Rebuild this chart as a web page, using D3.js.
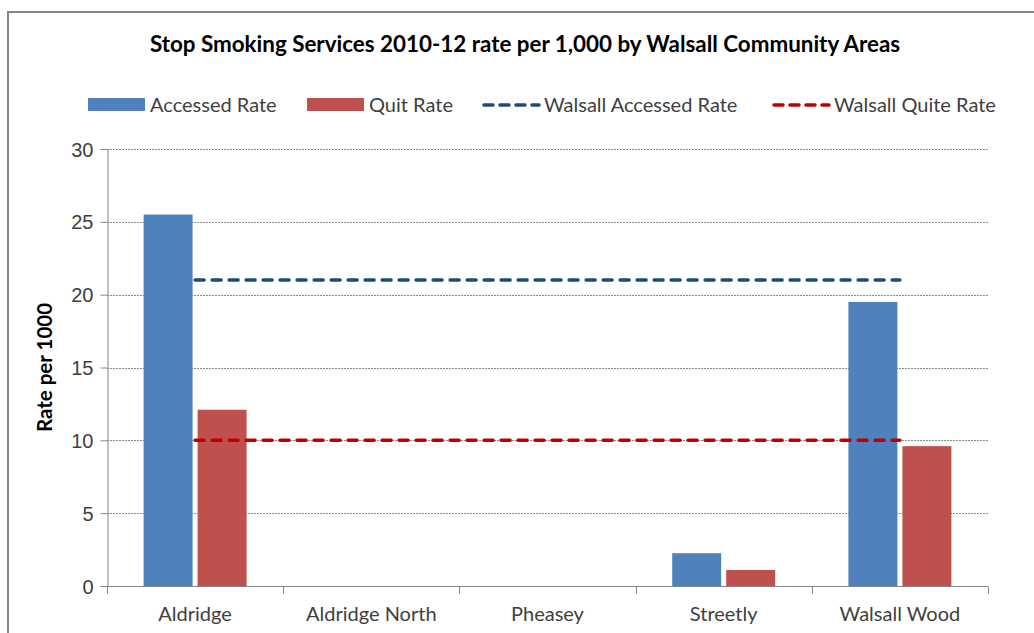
<!DOCTYPE html>
<html>
<head>
<meta charset="utf-8">
<script src="https://cdn.jsdelivr.net/npm/d3@7/dist/d3.min.js"></script>
<style>
  html, body { margin: 0; padding: 0; background: #fff; }
  svg { display: block; font-family: Lato, "Open Sans", sans-serif; }
</style>
</head>
<body>
<svg id="chart" width="1034" height="633"></svg>
<script>
// Community areas and rates per 1,000
const categories = ["Aldridge", "Aldridge North", "Pheasey", "Streetly", "Walsall Wood"];
const accessedRate = [25.5, 0, 0, 2.25, 19.5];
const quitRate = [12.1, 0, 0, 1.1, 9.6];
// Borough-wide reference levels, one value per category
const walsallAccessed = [21, 21, 21, 21, 21];
const walsallQuit = [10, 10, 10, 10, 10];
const yTicks = [0, 5, 10, 15, 20, 25, 30];

const title = "Stop Smoking Services 2010-12 rate per 1,000 by Walsall Community Areas";
const yTitle = "Rate per 1000";

const colors = { accessed: "#4f81bd", quit: "#c0504d", walsallAccessed: "#1f497d", walsallQuit: "#c00000" };

const svg = d3.select("#chart");
const m = { left: 107, right: 1034 - 988, top: 149, bottom: 633 - 586 };
const W = 1034, H = 633;

// Outer chart frame (runs off the right and bottom edges)
svg.append("path")
  .attr("d", `M8,${H + 5} L8,12 L${W + 5},12`)
  .attr("fill", "none").attr("stroke", "#868686").attr("stroke-width", 2);

const x = d3.scaleBand().domain(categories).range([m.left, W - m.right]).paddingInner(0).paddingOuter(0);
const y = d3.scaleLinear().domain([0, 30]).range([H - m.bottom, m.top]);

// Inner band for the two bars within each category
const sub = d3.scaleBand().domain(["accessed", "quit"])
  .range([0, x.bandwidth()]).paddingInner(0.093).paddingOuter(0.678);

// Horizontal dotted gridlines
svg.append("g").selectAll("line").data(yTicks.filter(d => d > 0)).join("line")
  .attr("x1", m.left).attr("x2", W - m.right)
  .attr("y1", d => Math.round(y(d)) + 0.5).attr("y2", d => Math.round(y(d)) + 0.5)
  .attr("stroke", "#8c8c8c").attr("stroke-width", 1).attr("stroke-dasharray", "2,1");

// Bars
const groups = svg.append("g").selectAll("g").data(categories).join("g")
  .attr("transform", d => `translate(${x(d)},0)`);
groups.append("rect")
  .attr("x", sub("accessed")).attr("width", sub.bandwidth())
  .attr("y", (d, i) => y(accessedRate[i])).attr("height", (d, i) => y(0) - y(accessedRate[i]))
  .attr("fill", colors.accessed);
groups.append("rect")
  .attr("x", sub("quit")).attr("width", sub.bandwidth())
  .attr("y", (d, i) => y(quitRate[i])).attr("height", (d, i) => y(0) - y(quitRate[i]))
  .attr("fill", colors.quit);

// Walsall reference lines through the category centres
const line = d3.line().x((d, i) => x(categories[i]) + x.bandwidth() / 2).y(d => y(d));
svg.append("path").datum(walsallAccessed).attr("d", line)
  .attr("fill", "none").attr("stroke", colors.walsallAccessed).attr("stroke-width", 3.5)
  .attr("stroke-dasharray", "9,8").attr("stroke-linecap", "round");
svg.append("path").datum(walsallQuit).attr("d", line)
  .attr("fill", "none").attr("stroke", colors.walsallQuit).attr("stroke-width", 3.5)
  .attr("stroke-dasharray", "9,8").attr("stroke-linecap", "round");

// Y axis
const yAxis = svg.append("g").attr("transform", `translate(${m.left + 0.5},0)`)
  .call(d3.axisLeft(y).tickValues(yTicks).tickSize(7).tickPadding(7));
yAxis.select(".domain").attr("stroke", "#868686");
yAxis.selectAll(".tick line").attr("stroke", "#868686");
yAxis.selectAll("text").attr("fill", "#404040").style("font-size", "20px").attr("dy", "0.35em");

// X axis with ticks at category boundaries
const xAxis = svg.append("g").attr("transform", `translate(0,${Math.round(y(0)) + 0.5})`);
xAxis.append("line").attr("x1", m.left - 7).attr("x2", W - m.right).attr("stroke", "#868686");
const bounds = categories.map(c => x(c)).concat([x(categories[categories.length - 1]) + x.bandwidth()]);
xAxis.selectAll("line.tk").data(bounds).join("line").attr("class", "tk")
  .attr("x1", d => Math.round(d) + 0.5).attr("x2", d => Math.round(d) + 0.5)
  .attr("y1", 0).attr("y2", 7).attr("stroke", "#868686");
xAxis.selectAll("text").data(categories).join("text")
  .attr("x", d => x(d) + x.bandwidth() / 2).attr("y", 34)
  .attr("text-anchor", "middle").attr("fill", "#404040").style("font-size", "20px")
  .text(d => d);

// Y axis title
svg.append("text")
  .attr("transform", `translate(52,${(y(0) + y(30)) / 2}) rotate(-90)`)
  .attr("text-anchor", "middle").style("font-size", "20.5px").style("font-weight", "bold")
  .attr("fill", "#000").text(yTitle);

// Chart title
svg.append("text").attr("x", 525).attr("y", 52).attr("text-anchor", "middle")
  .style("font-size", "22.4px").style("font-weight", "bold").attr("fill", "#000").text(title);

// Legend
const legendItems = [
  { label: "Accessed Rate", type: "rect", color: colors.accessed, x: 88 },
  { label: "Quit Rate", type: "rect", color: colors.quit, x: 307 },
  { label: "Walsall Accessed Rate", type: "line", color: colors.walsallAccessed, x: 482 },
  { label: "Walsall Quite Rate", type: "line", color: colors.walsallQuit, x: 772 }
];
const lg = svg.append("g").selectAll("g").data(legendItems).join("g")
  .attr("transform", d => `translate(${d.x},105)`);
lg.filter(d => d.type === "rect").append("rect")
  .attr("x", 0).attr("y", -7).attr("width", 57).attr("height", 13).attr("fill", d => d.color);
lg.filter(d => d.type === "line").append("line")
  .attr("x1", 2).attr("x2", 57).attr("y1", 0).attr("y2", 0)
  .attr("stroke", d => d.color).attr("stroke-width", 3.5)
  .attr("stroke-dasharray", "9,7").attr("stroke-linecap", "round");
lg.append("text").attr("x", 62).attr("y", 0).attr("dy", "0.35em")
  .attr("fill", "#404040").style("font-size", "20px").text(d => d.label);
</script>
</body>
</html>
